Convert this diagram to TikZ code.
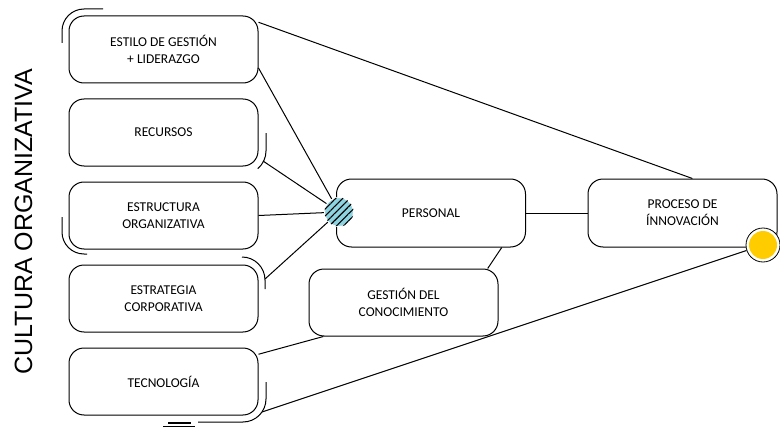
\documentclass[tikz,border=0pt]{standalone}
\usepackage{fontspec}
\setmainfont{Carlito}
\newfontfamily\arialfont{Liberation Sans}
\usetikzlibrary{positioning, patterns.meta}
\definecolor{celeste}{HTML}{8ED3E0}
\definecolor{amarillo}{HTML}{FFCC00}

\begin{document}
\begin{tikzpicture}[
  x=1pt, y=-1pt,
  node distance=15pt,
  caja/.style={draw, rounded corners=15pt, align=center, line width=1pt,
    minimum width=189pt, minimum height=67pt,
    font=\fontsize{13.5}{17}\selectfont},
  nodo/.style={circle, inner sep=0, minimum size=29pt, fill=celeste,
    draw=white, line width=1.2pt,
    postaction={pattern={Lines[angle=45, distance=5pt, line width=1.1pt]}}},
  solborde/.style={circle, inner sep=0, minimum size=34pt, draw, fill=white, line width=0.8pt},
  sol/.style={circle, inner sep=0, minimum size=28pt, fill=amarillo},
  enlace/.style={draw, line width=1pt},
  llave/.style={draw, line width=1pt}
]
\useasboundingbox (0,0) rectangle (780,428);

\node[rotate=90, inner sep=0, font=\arialfont\fontsize{25}{25}\selectfont] (cultura) at (23.5,221.5) {CULTURA ORGANIZATIVA};

% columna de factores
\node[caja] (estilo) at (163.5,49.5) {ESTILO DE GESTIÓN\\+ LIDERAZGO};
\node[caja, below=of estilo] (recursos) {RECURSOS};
\node[caja, below=of recursos] (estructura) {ESTRUCTURA\\ORGANIZATIVA};
\node[caja, below=of estructura] (estrategia) {ESTRATEGIA\\CORPORATIVA};
\node[caja, below=of estrategia] (tecnologia) {TECNOLOGÍA};

\node[caja, minimum height=68pt] (personal) at (431,213) {PERSONAL};
\node[caja] (gestion) at (403.5,302.5) {GESTIÓN DEL\\CONOCIMIENTO};
\node[caja, minimum height=68pt] (proceso) at (682.5,213) {PROCESO DE\\ÍNNOVACIÓN};

\node[nodo] (hub) at (339,212) {};
\node[solborde] (solaro) at (763,245) {};
\node[sol] (sol) at (solaro) {};

% llaves
\draw[llave] (62,43) -- (62,31) arc[start angle=180, end angle=270, radius=22] -- (103,9);
\draw[llave] (266,133) -- (266,151) arc[start angle=0, end angle=50, radius=23];
\draw[llave] (62,217) -- (62,232) arc[start angle=180, end angle=90, radius=22] -- (87,254);
\draw[llave] (242,257) arc[start angle=270, end angle=360, radius=23] -- (265,289);
\draw[llave] (266,382) -- (266,399) arc[start angle=0, end angle=90, radius=23] -- (198,422);
\draw[line width=2pt] (168,422.5) -- (191,422.5);
\draw[line width=0.9pt] (163,426) -- (195,426);
\coordinate (recb) at (263,161);
\coordinate (estb) at (265,279);
\coordinate (tecb) at (262,412);

% enlaces
\draw[enlace] (estilo.16) -- (proceso.74);
\draw[enlace] (estilo.-11) -- (hub);
\draw[enlace] (recb) -- (hub);
\draw[enlace] (estructura.east) -- (hub);
\draw[enlace] (estb) -- (hub);
\draw[enlace] (personal.east) -- (proceso.west);
\draw[enlace] (personal.-26) -- (gestion.22);
\draw[enlace] (tecnologia.16) -- (gestion.203);
\draw[enlace] (tecb) -- (solaro);
\end{tikzpicture}
\end{document}
